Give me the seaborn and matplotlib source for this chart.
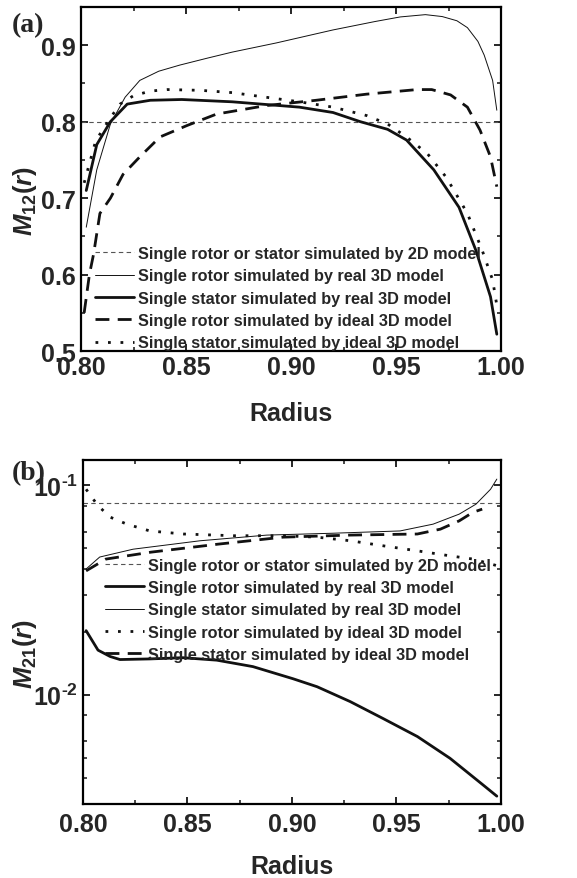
import numpy as np
import pandas as pd
import matplotlib
matplotlib.use('Agg')
import matplotlib.pyplot as plt
import matplotlib.ticker as mticker
import seaborn as sns

# ── DATA: panel (a) M12(r) ──────────────────────────────────────────────────
r_2d = [0.80, 1.00]
m12_2d = [0.80, 0.80]

r_rotor_real_a = [0.8025, 0.8075, 0.814, 0.821, 0.828, 0.837, 0.847, 0.860, 0.872, 0.893,
                  0.920, 0.940, 0.952, 0.964, 0.972, 0.979, 0.984, 0.989, 0.992, 0.996, 0.998]
m12_rotor_real = [0.662, 0.737, 0.797, 0.832, 0.854, 0.866, 0.874, 0.883, 0.891, 0.903,
                  0.920, 0.931, 0.937, 0.940, 0.9375, 0.932, 0.923, 0.905, 0.887, 0.854, 0.815]

r_stator_real_a = [0.8025, 0.8075, 0.814, 0.822, 0.833, 0.848, 0.872, 0.904, 0.920, 0.933,
                   0.946, 0.955, 0.968, 0.980, 0.988, 0.995, 0.998]
m12_stator_real = [0.710, 0.770, 0.800, 0.823, 0.828, 0.829, 0.826, 0.819, 0.812, 0.800,
                   0.790, 0.776, 0.737, 0.688, 0.632, 0.571, 0.522]

r_rotor_ideal_a = [0.8015, 0.804, 0.806, 0.809, 0.814, 0.820, 0.828, 0.8376, 0.8505, 0.8646,
                   0.888, 0.912, 0.936, 0.960, 0.967, 0.976, 0.984, 0.990, 0.995, 0.998]
m12_rotor_ideal = [0.550, 0.600, 0.627, 0.680, 0.700, 0.731, 0.754, 0.780, 0.795, 0.810,
                   0.821, 0.828, 0.836, 0.842, 0.842, 0.835, 0.819, 0.789, 0.754, 0.715]

r_stator_ideal_a = [0.8015, 0.807, 0.814, 0.8186, 0.825, 0.833, 0.841, 0.857, 0.872, 0.888,
                    0.904, 0.920, 0.936, 0.946, 0.955, 0.965, 0.974, 0.984, 0.991, 0.996, 0.998]
m12_stator_ideal = [0.720, 0.775, 0.805, 0.823, 0.834, 0.840, 0.842, 0.841, 0.838, 0.832,
                    0.826, 0.819, 0.808, 0.797, 0.780, 0.758, 0.727, 0.680, 0.632, 0.593, 0.560]

# ── DATA: panel (b) M21(r) ──────────────────────────────────────────────────
m21_2d = [0.082, 0.082]

r_rotor_real_b = [0.8015, 0.8072, 0.813, 0.8177, 0.832, 0.8478, 0.864, 0.8813, 0.9005, 0.912,
                  0.9278, 0.9435, 0.960, 0.9756, 0.9914, 0.998]
m21_rotor_real = [0.0202, 0.0163, 0.0152, 0.0147, 0.0148, 0.0150, 0.0146, 0.0136, 0.0119, 0.0109,
                  0.00926, 0.00769, 0.0063, 0.00496, 0.0037, 0.00327]

r_stator_real_b = [0.8015, 0.808, 0.824, 0.856, 0.888, 0.9196, 0.9517, 0.9675, 0.980, 0.988,
                   0.995, 0.998]
m21_stator_real = [0.0398, 0.0454, 0.0495, 0.0543, 0.0578, 0.0590, 0.0605, 0.0652, 0.0728, 0.0812,
                   0.0957, 0.107]

r_rotor_ideal_b = [0.8015, 0.807, 0.8129, 0.821, 0.832, 0.848, 0.872, 0.8957, 0.912, 0.928,
                   0.9435, 0.960, 0.9756, 0.9866, 0.998]
m21_rotor_ideal = [0.0957, 0.0803, 0.0705, 0.0652, 0.0605, 0.0585, 0.0574, 0.0574, 0.0565, 0.0543,
                   0.0514, 0.0486, 0.0460, 0.0444, 0.0413]

r_stator_ideal_b = [0.8015, 0.811, 0.8325, 0.8645, 0.8957, 0.9278, 0.960, 0.971, 0.980, 0.9866,
                    0.991]
m21_stator_ideal = [0.0390, 0.0444, 0.0479, 0.0523, 0.0565, 0.0578, 0.0585, 0.0617, 0.0676, 0.0743,
                    0.0769]

labels_a = ['Single rotor or stator simulated by 2D model',
            'Single rotor simulated by real 3D model',
            'Single stator simulated by real 3D model',
            'Single rotor simulated by ideal 3D model',
            'Single stator simulated by ideal 3D model']
labels_b = ['Single rotor or stator simulated by 2D model',
            'Single rotor simulated by real 3D model',
            'Single stator simulated by real 3D model',
            'Single rotor simulated by ideal 3D model',
            'Single stator simulated by ideal 3D model']
log_ticks_b = [0.01, 0.1]
log_ticklabels_b = [r'$10^{\text{-}2}$', r'$10^{\text{-}1}$']

# ── STYLE ───────────────────────────────────────────────────────────────────
sns.set_style('ticks')
plt.rcParams.update({
    'font.family': ['Liberation Sans', 'DejaVu Sans'],
    'font.weight': 'bold',
    'axes.labelweight': 'bold',
    'mathtext.fontset': 'custom',
    'mathtext.rm': 'Liberation Sans:bold',
    'mathtext.bf': 'Liberation Sans:bold',
    'mathtext.it': 'Liberation Sans:italic:bold',
    'axes.linewidth': 1.6,
    'xtick.direction': 'in',
    'ytick.direction': 'in',
    'xtick.top': True,
    'ytick.right': True,
    'xtick.major.width': 1.4,
    'ytick.major.width': 1.4,
    'xtick.minor.width': 1.2,
    'ytick.minor.width': 1.2,
    'xtick.major.size': 5,
    'ytick.major.size': 5,
    'xtick.minor.size': 3,
    'ytick.minor.size': 3,
    'axes.edgecolor': 'black',
})

BLACK = '#111111'
GREY = '#555555'
THIN = dict(color=BLACK, lw=0.7)
THICK = dict(color=BLACK, lw=2.0)
DASH = dict(color=BLACK, lw=2.0, linestyle=(0, (5, 3)))
DOT = dict(color=BLACK, lw=2.0, linestyle=(0, (1, 3.5)))
LINE2D = dict(color=GREY, lw=0.8, linestyle=(0, (4, 3)))
LEG = dict(frameon=False, fontsize=11.7, handlelength=2.4, handletextpad=0.25,
           labelspacing=0.45, borderaxespad=0.0)

fig = plt.figure(figsize=(5.77, 8.79), dpi=100)
ax1 = fig.add_axes([0.1404, 0.5995, 0.7279, 0.3914])
ax2 = fig.add_axes([0.1438, 0.0842, 0.7245, 0.3913])

# ── PANEL (a) ───────────────────────────────────────────────────────────────
sns.lineplot(x=r_2d, y=m12_2d, ax=ax1, label=labels_a[0], **LINE2D)
sns.lineplot(x=r_rotor_real_a, y=m12_rotor_real, ax=ax1, label=labels_a[1], **THIN)
sns.lineplot(x=r_stator_real_a, y=m12_stator_real, ax=ax1, label=labels_a[2], **THICK)
sns.lineplot(x=r_rotor_ideal_a, y=m12_rotor_ideal, ax=ax1, label=labels_a[3], **DASH)
sns.lineplot(x=r_stator_ideal_a, y=m12_stator_ideal, ax=ax1, label=labels_a[4], **DOT)

ax1.set_xlim(0.80, 1.00)
ax1.set_ylim(0.50, 0.95)
ax1.xaxis.set_major_locator(mticker.MultipleLocator(0.05))
ax1.xaxis.set_minor_locator(mticker.MultipleLocator(0.025))
ax1.yaxis.set_major_locator(mticker.MultipleLocator(0.1))
ax1.yaxis.set_minor_locator(mticker.MultipleLocator(0.05))
ax1.xaxis.set_major_formatter(mticker.FormatStrFormatter('%.2f'))
ax1.yaxis.set_major_formatter(mticker.FormatStrFormatter('%.1f'))
ax1.tick_params(axis='both', which='both', labelsize=18)
ax1.tick_params(axis='x', pad=3)
ax1.set_xlabel('Radius', fontsize=18, labelpad=16)
ax1.set_ylabel(r'$M_{12}(r)$', fontsize=18.5)
ax1.yaxis.set_label_coords(-0.099, 0.44)
ax1.legend(loc='lower left', bbox_to_anchor=(0.018, -0.017), **LEG)
fig.text(0.02, 0.985, '(a)', fontsize=20, fontweight='bold', family='Liberation Serif', va='top')

# ── PANEL (b) ───────────────────────────────────────────────────────────────
sns.lineplot(x=r_2d, y=m21_2d, ax=ax2, label=labels_b[0], **LINE2D)
sns.lineplot(x=r_rotor_real_b, y=m21_rotor_real, ax=ax2, label=labels_b[1], **THICK)
sns.lineplot(x=r_stator_real_b, y=m21_stator_real, ax=ax2, label=labels_b[2], **THIN)
sns.lineplot(x=r_rotor_ideal_b, y=m21_rotor_ideal, ax=ax2, label=labels_b[3], **DOT)
sns.lineplot(x=r_stator_ideal_b, y=m21_stator_ideal, ax=ax2, label=labels_b[4], **DASH)

ax2.set_yscale('log')
ax2.set_xlim(0.80, 1.00)
ax2.set_ylim(0.003, 0.132)
ax2.xaxis.set_major_locator(mticker.MultipleLocator(0.05))
ax2.xaxis.set_minor_locator(mticker.MultipleLocator(0.025))
ax2.xaxis.set_major_formatter(mticker.FormatStrFormatter('%.2f'))
ax2.set_yticks(log_ticks_b)
ax2.set_yticklabels(log_ticklabels_b)
ax2.yaxis.set_minor_locator(mticker.LogLocator(base=10, subs=(2, 3, 4, 5, 6, 8)))
ax2.yaxis.set_minor_formatter(mticker.NullFormatter())
ax2.tick_params(axis='both', which='both', labelsize=18)
ax2.tick_params(axis='x', pad=6)
ax2.set_xlabel('Radius', fontsize=18, labelpad=13)
ax2.set_ylabel(r'$M_{21}(r)$', fontsize=18.5)
ax2.yaxis.set_label_coords(-0.104, 0.44)
ax2.legend(loc='upper left', bbox_to_anchor=(0.036, 0.735), **LEG)
fig.text(0.02, 0.476, '(b)', fontsize=20, fontweight='bold', family='Liberation Serif', va='top')

plt.savefig('out.png', dpi=100)
plt.close()
print("saved")
